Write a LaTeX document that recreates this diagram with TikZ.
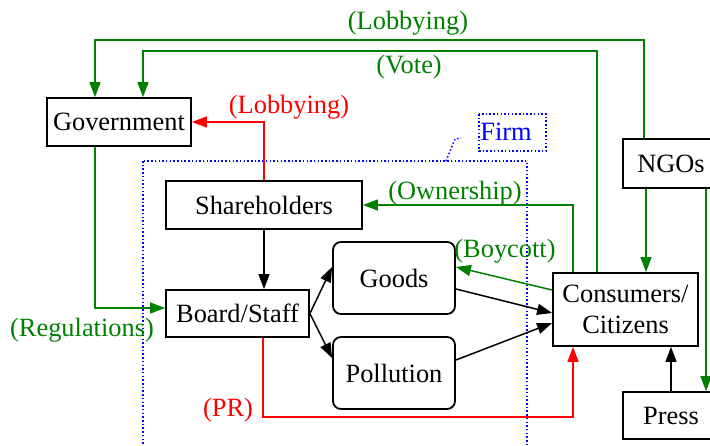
\documentclass[tikz,border=0pt]{standalone}
\usepackage{fontspec}
\setmainfont{Liberation Serif}
\usetikzlibrary{arrows.meta,calc}
\definecolor{dgreen}{RGB}{0,128,0}
\begin{document}
\begin{tikzpicture}[x=0.5pt,y=-0.5pt,
  every node/.style={font=\fontsize{13.2}{15.5}\selectfont},
  box/.style={draw=black,line width=0.9pt,inner sep=0pt,align=center},
  rbox/.style={box,rounded corners=4pt},
  conn/.style={line width=0.75pt,-{Triangle[length=7.5pt,width=5.5pt]}},
  gline/.style={conn,draw=dgreen},
  rline/.style={conn,draw=red},
  bline/.style={conn,draw=black},
  glabel/.style={text=dgreen,inner sep=0pt},
  rlabel/.style={text=red,inner sep=0pt},
  firmline/.style={draw=blue,line width=0.75pt,dash pattern=on 0.75pt off 1.1pt}
]
\useasboundingbox (0,0) rectangle (710,445);
\clip (0,0) rectangle (710,445);
% firm boundary
\draw[firmline] (143,161) rectangle (527,470);
\draw[firmline] (446,161) -- (455,139) -- (461,138);
\draw[firmline] (479,114) rectangle (546,151);
\node[text=blue,inner sep=0pt] (firm) at (506,132) {Firm};
% nodes
\node[box,minimum width=72pt,minimum height=24pt] (gov) at (119,122) {Government};
\node[box,minimum width=98pt,minimum height=24pt] (share) at (264,205) {Shareholders};
\node[box,minimum width=71.5pt,minimum height=23.5pt] (board) at (237.5,313.5) {Board/Staff};
\node[rbox,minimum width=61pt,minimum height=36pt] (goods) at (394,278) {Goods};
\node[rbox,minimum width=61pt,minimum height=36pt] (poll) at (394,373) {Pollution};
\node[box,minimum width=72.5pt,minimum height=36.5pt] (cons) at (625.5,309.5) {Consumers/\\Citizens};
\node[box,minimum width=48pt,minimum height=24.5pt] (ngos) at (671,163.5) {NGOs};
\node[box,minimum width=48pt,minimum height=23.5pt] (press) at (671,415.5) {Press};
% connectors
\draw[gline] (644,0 |- ngos.north) |- (95,40) -- (95,0 |- gov.north);
\draw[gline] (597,0 |- cons.north) |- (143,51) -- (143,0 |- gov.north);
\draw[rline] (share.north) |- (gov.east);
\draw[gline] (95,0 |- gov.south) |- ([yshift=2.75pt]board.west);
\draw[gline] (573,0 |- cons.north) |- (share.east);
\draw[bline] (share.south) -- (share.south |- board.north);
\draw[bline] (board.east) -- ([yshift=5.5pt]goods.west);
\draw[bline] (board.east) -- ([yshift=7.5pt]poll.west);
\draw[bline] ([yshift=-5.5pt]goods.east) -- ([yshift=-1.75pt]cons.west);
\draw[bline] ([yshift=6.5pt]poll.east) -- ([yshift=-6.75pt]cons.west);
\draw[gline] ([yshift=9.75pt]cons.west) -- ([yshift=5.5pt]goods.east);
\draw[rline] (263,0 |- board.south) -- (263,417) -| (573,0 |- cons.south);
\draw[bline] (press.north) -- (press.north |- cons.south);
\draw[gline] (646,0 |- ngos.south) -- (646,0 |- cons.north);
\draw[gline] (706,0 |- ngos.south) -- (706,0 |- press.north);
% labels
\node[glabel] (l1) at (408,23) {(Lobbying)};
\node[glabel] (l2) at (409,67) {(Vote)};
\node[rlabel] (l3) at (289,107) {(Lobbying)};
\node[glabel] (l4) at (455,193) {(Ownership)};
\node[glabel] (l5) at (505,251) {(Boycott)};
\node[glabel] (l6) at (82,330) {(Regulations)};
\node[rlabel] (l7) at (228,410) {(PR)};
\end{tikzpicture}
\end{document}
